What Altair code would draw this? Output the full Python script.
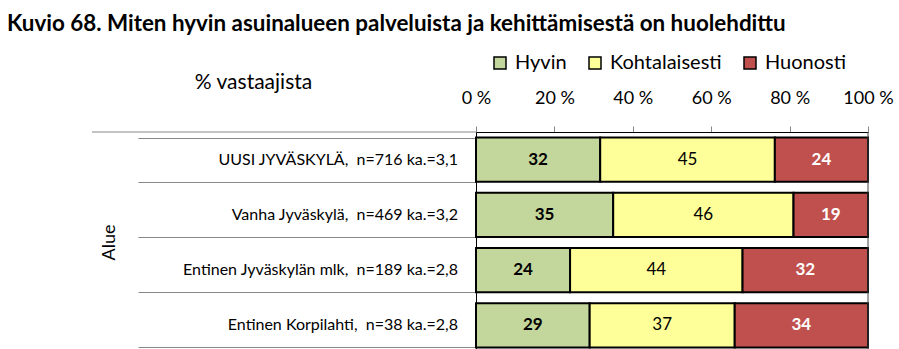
import altair as alt
import pandas as pd

categories = [
    "UUSI JYVÄSKYLÄ, \u00a0n=716 ka.=3,1",
    "Vanha Jyväskylä, \u00a0n=469 ka.=3,2",
    "Entinen Jyväskylän mlk, \u00a0n=189 ka.=2,8",
    "Entinen Korpilahti, \u00a0n=38 ka.=2,8",
]
responses = ["Hyvin", "Kohtalaisesti", "Huonosti"]
hyvin = [32, 35, 24, 29]
kohtalaisesti = [45, 46, 44, 37]
huonosti = [24, 19, 32, 34]
colors = ["#C3D69B", "#FFFF99", "#C0504D"]
x_ticks = [0, 0.2, 0.4, 0.6, 0.8, 1.0]

rows = []
for i, c in enumerate(categories):
    for j, (r, vals) in enumerate(zip(responses, [hyvin, kohtalaisesti, huonosti])):
        rows.append({"cat": c, "resp": r, "value": vals[i], "order": j})
df = pd.DataFrame(rows)

FONT = "Lato"
W, H = 392, 217
RANGE_H = 221

base = (
    alt.Chart(df)
    .transform_stack(
        stack="value",
        groupby=["cat"],
        as_=["x0", "x1"],
        offset="normalize",
        sort=[alt.SortField("order", order="ascending")],
    )
    .transform_calculate(mid="(datum.x0 + datum.x1) / 2")
)

y_enc = alt.Y(
    "cat:N",
    sort=categories,
    scale=alt.Scale(range=[0, RANGE_H], paddingInner=0.2, paddingOuter=0.1),
    axis=alt.Axis(
        title="Alue",
        titleAngle=270,
        titleX=-367,
        titleY=110,
        titleAlign="center",
        titleBaseline="middle",
        titleFont=FONT,
        titleFontSize=18,
        titleFontWeight="normal",
        titleColor="black",
        labels=False,
        tickBand="extent",
        tickSize=338,
        tickColor="#888888",
        tickWidth=1,
        domainColor="black",
        domainWidth=1,
    ),
)

x_scale = alt.Scale(domain=[0, 1], nice=False)

bars = base.mark_bar(stroke="black", strokeWidth=2).encode(
    x=alt.X(
        "x0:Q",
        scale=x_scale,
        axis=alt.Axis(
            orient="top",
            values=x_ticks,
            labelExpr="format(datum.value * 100, 'd') + ' %'",
            grid=False,
            tickSize=6,
            tickColor="#888888",
            domainColor="black",
            labelPadding=19,
            labelFont=FONT,
            labelFontSize=18,
            labelColor="black",
            labelFlush=False,
            labelOverlap=False,
            title="% vastaajista",
            titleX=-223,
            titleY=-50,
            titleAlign="center",
            titleBaseline="middle",
            titleFont=FONT,
            titleFontSize=21,
            titleFontWeight="normal",
            titleColor="black",
        ),
    ),
    x2="x1:Q",
    y=y_enc,
    color=alt.Color(
        "resp:N",
        scale=alt.Scale(domain=responses, range=colors),
        legend=alt.Legend(
            title=None,
            orient="none",
            legendX=14,
            legendY=-79,
            direction="horizontal",
            columns=3,
            columnPadding=18,
            symbolType="square",
            symbolSize=144,
            symbolStrokeColor="black",
            symbolStrokeWidth=1.5,
            labelFont=FONT,
            labelFontSize=20,
            labelColor="black",
            labelOffset=5,
            padding=0,
        ),
    ),
)

def labels(resp, weight, color):
    return (
        base.transform_filter(alt.datum.resp == resp)
        .mark_text(font=FONT, fontSize=17, fontWeight=weight, color=color, baseline="middle", align="center")
        .encode(x=alt.X("mid:Q", scale=x_scale), y=alt.Y("cat:N", sort=categories), text=alt.Text("value:Q"))
    )

cat_labels = (
    alt.Chart(pd.DataFrame({"cat": categories}))
    .mark_text(font=FONT, fontSize=16, color="black", align="right", baseline="middle")
    .encode(x=alt.value(-18), y=alt.Y("cat:N", sort=categories), text="cat:N")
)

one = pd.DataFrame({"a": [0]})
top_line = alt.Chart(one).mark_rule(color="#888888", strokeWidth=1).encode(
    x=alt.value(-384), x2=alt.value(0), y=alt.value(0)
)
right_line = alt.Chart(one).mark_rule(color="#444444", strokeWidth=1).encode(
    x=alt.value(W), y=alt.value(0), y2=alt.value(RANGE_H)
)

chart = (
    alt.layer(
        bars,
        labels("Hyvin", "bold", "black"),
        labels("Kohtalaisesti", "normal", "black"),
        labels("Huonosti", "bold", "white"),
        cat_labels,
        top_line,
        right_line,
    )
    .properties(
        width=W,
        height=H,
        title=alt.TitleParams(
            "Kuvio 68. Miten hyvin asuinalueen palveluista ja kehittämisestä on huolehdittu",
            anchor="start",
            font=FONT,
            fontSize=22.4,
            fontWeight="bold",
            color="black",
            frame="group",
            dx=-469,
            dy=-14,
        ),
        autosize=alt.AutoSizeParams(type="none"),
        padding={"left": 476, "top": 132, "right": 31, "bottom": 0},
        background="white",
    )
    .configure_view(stroke=None)
)

chart.save("out.html", embed_options={"renderer": "svg", "actions": False})
